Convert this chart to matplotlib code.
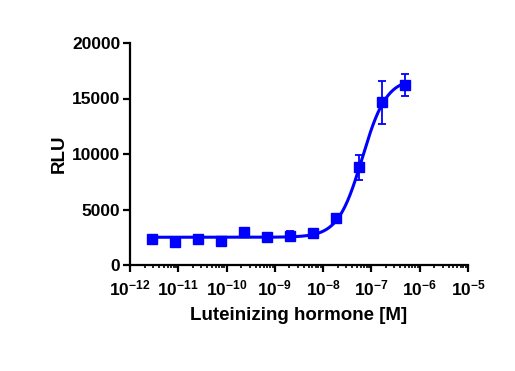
import numpy as np
import matplotlib
matplotlib.use("Agg")
import matplotlib.pyplot as plt
from matplotlib.ticker import LogLocator, FixedLocator, NullFormatter

plt.rcParams['font.family'] = ['Liberation Sans', 'DejaVu Sans']
plt.rcParams['font.weight'] = 'bold'
plt.rcParams['mathtext.fontset'] = 'custom'
plt.rcParams['mathtext.rm'] = 'Liberation Sans:bold'
plt.rcParams['mathtext.bf'] = 'Liberation Sans:bold'
plt.rcParams['mathtext.it'] = 'Liberation Sans:bold'

# Data: LH concentration (M), mean RLU, error (SD)
conc = [2.8e-12, 8.5e-12, 2.54e-11, 7.6e-11, 2.29e-10, 6.86e-10,
        2.06e-9, 6.17e-9, 1.85e-8, 5.56e-8, 1.667e-7, 5.0e-7]
rlu = [2350, 2050, 2300, 2150, 2950, 2500, 2650, 2900, 4200, 8800, 14650, 16250]
err = [0, 0, 0, 0, 0, 0, 450, 0, 0, 1150, 1950, 1000]

# Four-parameter logistic fit shown in the chart
fit_bottom = 2500
fit_top = 16800
fit_logec50 = -7.19
fit_hill = 1.73

x_ticks = [1e-12, 1e-11, 1e-10, 1e-9, 1e-8, 1e-7, 1e-6, 1e-5]
x_ticklabels = [r'$10^{-12}$', r'$10^{-11}$', r'$10^{-10}$', r'$10^{-9}$',
                r'$10^{-8}$', r'$10^{-7}$', r'$10^{-6}$', r'$10^{-5}$']
y_ticks = [0, 5000, 10000, 15000, 20000]

blue = '#0000ff'

fig = plt.figure(figsize=(5.15, 3.71), dpi=100)
ax = fig.add_axes([130/515, 1-265/371, (468-130)/515, (265-43)/371])

xc = np.logspace(np.log10(conc[0]), np.log10(conc[-1]), 300)
yc = fit_bottom + (fit_top - fit_bottom) / (1 + 10 ** ((fit_logec50 - np.log10(xc)) * fit_hill))
ax.plot(xc, yc, color=blue, lw=2.2, zorder=2)

ax.errorbar(conc, rlu, yerr=err, fmt='s', color=blue, ms=7.2, capsize=3,
            elinewidth=1.3, capthick=1.3, zorder=3)

ax.set_xscale('log')
ax.set_xlim(1e-12, 1e-5)
ax.set_ylim(0, 20000)
ax.xaxis.set_major_locator(FixedLocator(x_ticks))
ax.set_xticklabels(x_ticklabels, fontsize=12.5)
ax.xaxis.set_minor_locator(LogLocator(base=10, subs=np.arange(2, 10)))
ax.xaxis.set_minor_formatter(NullFormatter())
ax.set_yticks(y_ticks)
ax.set_yticklabels([str(v) for v in y_ticks], fontsize=12.5)

for s in ['top', 'right']:
    ax.spines[s].set_visible(False)
for s in ['left', 'bottom']:
    ax.spines[s].set_linewidth(1.6)

ax.tick_params(axis='y', which='major', direction='out', length=5, width=1.6, pad=2)
ax.tick_params(axis='x', which='major', direction='out', length=5, width=1.6, pad=5)
ax.tick_params(axis='x', which='minor', direction='out', length=2.5, width=1.2)

ax.set_xlabel('Luteinizing hormone [M]', fontsize=13.5, fontweight='bold', labelpad=6)
ax.set_ylabel('RLU', fontsize=13.5, fontweight='bold', labelpad=3)

fig.savefig('out.png', dpi=100)
